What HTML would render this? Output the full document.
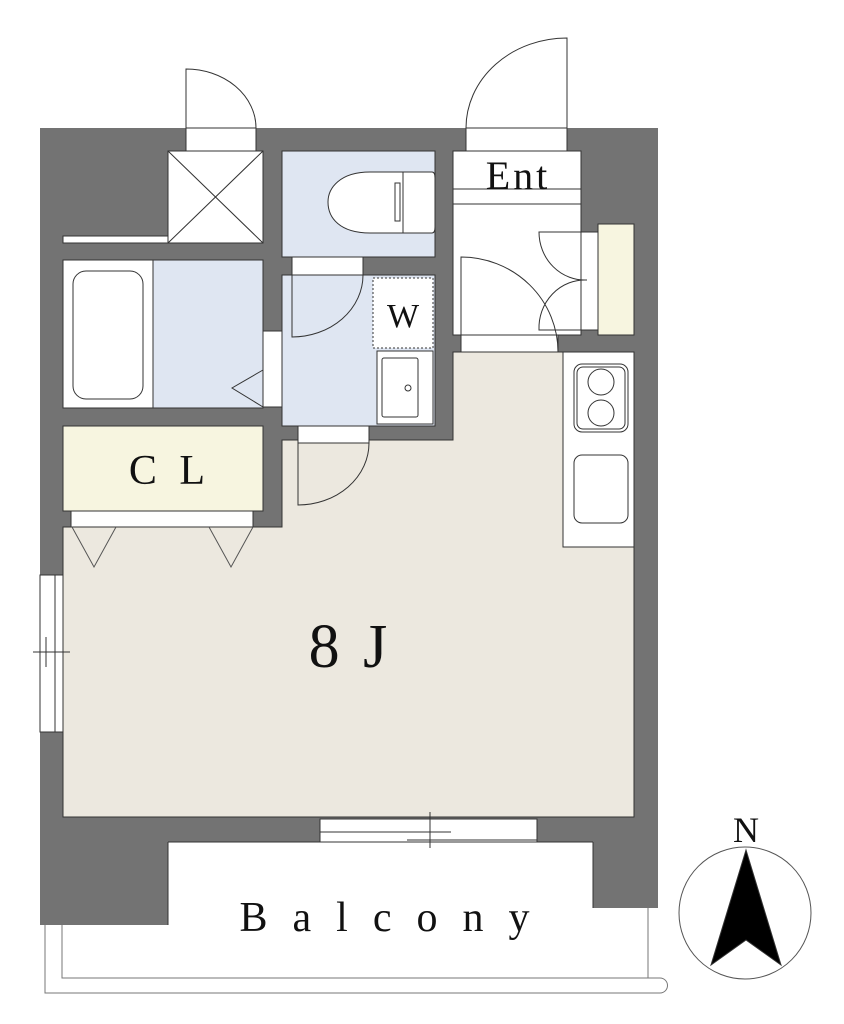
<!DOCTYPE html>
<html><head><meta charset="utf-8"><style>
html,body{margin:0;padding:0;background:#fff;}
svg{display:block;}
text{font-family:"Liberation Serif",serif;fill:#111;}
</style></head><body>
<svg width="844" height="1024" viewBox="0 0 844 1024" xmlns="http://www.w3.org/2000/svg">
<g stroke="#333" stroke-width="1">
<!-- outer walls -->
<rect x="40" y="128" width="618" height="714" fill="#737373" stroke="none"/>
<rect x="40" y="817" width="128" height="108" fill="#737373" stroke="none"/>
<rect x="593" y="817" width="65" height="91" fill="#737373" stroke="none"/>
<rect x="168" y="842" width="425" height="90" fill="#fff" stroke="none"/>
<line x1="168" y1="842" x2="593" y2="842"/>
<line x1="168" y1="842" x2="168" y2="925"/>
<line x1="593" y1="842" x2="593" y2="908"/>
<!-- balcony rail -->
<polyline points="45,925 45,993 660,993" fill="none" stroke="#777"/>
<polyline points="62,925 62,978 648,978 648,908" fill="none" stroke="#777"/>
<path d="M648,978 L660,978 A7.5,7.5 0 0 1 660,993" fill="none" stroke="#777"/>
<!-- main room beige -->
<polygon points="453,352 563,352 563,547 634,547 634,817 63,817 63,527 282,527 282,440 453,440" fill="#ece8df"/>
<!-- kitchen counter -->
<rect x="563" y="352" width="71" height="195" fill="#fff"/>
<rect x="574" y="364" width="54" height="68" rx="8" fill="#fff"/>
<rect x="577" y="367" width="48" height="62" rx="6" fill="#fff"/>
<circle cx="601" cy="382" r="13" fill="#fff"/>
<circle cx="601" cy="413" r="13" fill="#fff"/>
<rect x="574" y="455" width="54" height="68" rx="8" fill="#fff"/>
<!-- entrance hall -->
<rect x="453" y="151" width="128" height="184" fill="#fff"/>
<line x1="453" y1="189" x2="581" y2="189"/>
<line x1="453" y1="204" x2="581" y2="204"/>
<rect x="466" y="128" width="101" height="23" fill="#fff"/>
<path d="M567,128 L567,38 A101,90 0 0 0 466,128" fill="none"/>
<rect x="461" y="335" width="97" height="17" fill="#fff"/>
<path d="M461,335 L461,257 A97,95 0 0 1 558,352" fill="none"/>
<rect x="581" y="232" width="17" height="98" fill="#fff"/>
<path d="M581,232 L539,232 A46,48 0 0 0 587,280" fill="none"/>
<path d="M581,330 L539,330 A46,48 0 0 1 587,280" fill="none"/>
<rect x="598" y="224" width="36" height="111" fill="#f7f5e0"/>
<!-- top-left door + storage -->
<rect x="186" y="128" width="70" height="23" fill="#fff"/>
<path d="M186,128 L186,69 A70,59 0 0 1 256,128" fill="none"/>
<rect x="63" y="236" width="110" height="7" fill="#fff"/>
<rect x="168" y="151" width="95" height="92" fill="#fff"/>
<line x1="168" y1="151" x2="263" y2="243"/>
<line x1="263" y1="151" x2="168" y2="243"/>
<!-- toilet -->
<rect x="282" y="151" width="153" height="106" fill="#dfe6f2"/>
<path d="M403,172 L370,172 C340,172 328,188 328,202 C328,218 340,233 370,233 L403,233 Z" fill="#fff"/>
<path d="M403,172 L432,172 Q435,172 435,178 L435,227 Q435,233 432,233 L403,233 Z" fill="#fff"/>
<rect x="395" y="183" width="5" height="38" fill="#fff"/>
<!-- bathroom -->
<rect x="63" y="260" width="200" height="148" fill="#dfe6f2"/>
<rect x="63" y="260" width="90" height="148" fill="#fff"/>
<rect x="73" y="271" width="70" height="128" rx="13" fill="#fff"/>
<polyline points="263,370 232,388 263,407" fill="none"/>
<rect x="263" y="331" width="19" height="76" fill="#fff"/>
<!-- washroom -->
<rect x="282" y="275" width="153" height="151" fill="#dfe6f2"/>
<rect x="292" y="257" width="71" height="18" fill="#fff"/>
<path d="M292,275 L292,337 A71,62 0 0 0 363,275" fill="none"/>
<rect x="373" y="278" width="60" height="70" fill="#fff" stroke-dasharray="2,2"/>
<rect x="377" y="351" width="56" height="73" fill="#fff"/>
<rect x="382" y="358" width="36" height="59" rx="2" fill="#fff"/>
<circle cx="408" cy="388" r="3" fill="#fff"/>
<!-- CL -->
<rect x="63" y="426" width="200" height="85" fill="#f7f5e0"/>
<rect x="71" y="511" width="182" height="16" fill="#fff"/>
<polyline points="72,527 94,567 116,527" fill="none" stroke="#555"/>
<polyline points="209,527 231,567 253,527" fill="none" stroke="#555"/>
<!-- door to room -->
<rect x="298" y="426" width="71" height="17" fill="#fff"/>
<path d="M298,443 L298,505 A71,62 0 0 0 369,443" fill="none"/>
<!-- left window -->
<rect x="40" y="575" width="23" height="157" fill="#fff"/>
<line x1="55" y1="575" x2="55" y2="732"/>
<line x1="33" y1="652" x2="70" y2="652"/>
<line x1="46" y1="637" x2="46" y2="667"/>
<!-- bottom window -->
<rect x="320" y="819" width="217" height="23" fill="#fff"/>
<line x1="320" y1="832" x2="451" y2="832"/>
<line x1="407" y1="840" x2="537" y2="840"/>
<line x1="430" y1="812" x2="430" y2="848"/>
<!-- compass -->
<circle cx="745" cy="913" r="66" fill="#fff" stroke="#555"/>
<polygon points="746,850 711,965 746,940 781,965" fill="#000"/>
</g>
<text x="518" y="189" font-size="40" text-anchor="middle" letter-spacing="3">Ent</text>
<text x="403" y="327" font-size="34" text-anchor="middle">W</text>
<text x="170" y="484" font-size="42" text-anchor="middle" letter-spacing="6">C L</text>
<text x="350" y="667" font-size="62" text-anchor="middle" letter-spacing="4">8 J</text>
<text x="397" y="931" font-size="42" text-anchor="middle" letter-spacing="25">Balcony</text>
<text x="746" y="842" font-size="36" text-anchor="middle">N</text>
</svg>
</body></html>
